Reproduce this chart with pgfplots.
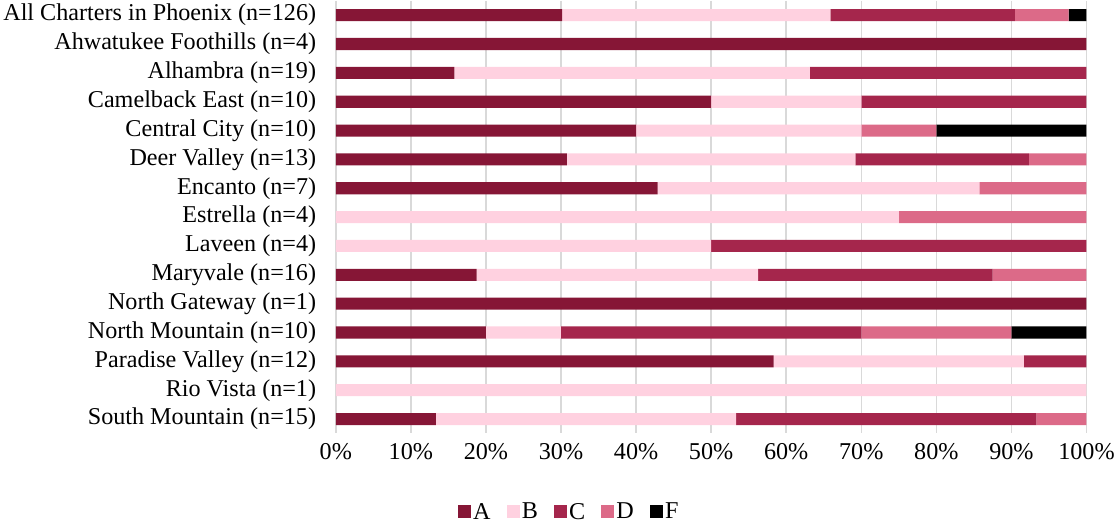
\documentclass[border=0pt]{standalone}
\usepackage{pgfplots}
\pgfplotsset{compat=1.18}
\usepackage{fontspec}
\setmainfont{Liberation Serif}
\definecolor{cA}{HTML}{861636}
\definecolor{cB}{HTML}{FFD1E0}
\definecolor{cC}{HTML}{A5264C}
\definecolor{cD}{HTML}{DC6A88}
\definecolor{cF}{HTML}{000000}
\begin{document}
\begin{tikzpicture}
\begin{axis}[
    xbar stacked, y dir=reverse,
    width=746pt, height=430pt, scale only axis,
    xmin=0, xmax=100, ymin=-0.5, ymax=14.5,
    ytick={0,...,14},
    yticklabels={All Charters in Phoenix (n=126), Ahwatukee Foothills (n=4),
        Alhambra (n=19), Camelback East (n=10), Central City (n=10),
        Deer Valley (n=13), Encanto (n=7), Estrella (n=4), Laveen (n=4),
        Maryvale (n=16), North Gateway (n=1), North Mountain (n=10),
        Paradise Valley (n=12), Rio Vista (n=1), South Mountain (n=15)},
    xtick={0,10,...,100},
    xticklabel={\pgfmathprintnumber{\tick}\%},
    /pgf/number format/assume math mode=true,
    xmajorgrids, grid style={draw=gray!30, line width=1.5pt},
    axis line style={draw=none}, major tick length=0pt,
    bar width=12pt,
    tick label style={font=\fontsize{24}{28}\selectfont},
    yticklabel style={xshift=-16pt},
    xticklabel style={yshift=-6pt},
    every axis plot/.append style={draw=none},
    legend style={at={(0.311,-0.181)}, anchor=center, legend columns=-1,
        draw=none, font=\fontsize{24}{28}\selectfont,
        /tikz/every even column/.append style={column sep=14pt}},
    legend image code/.code={\fill[#1] (0pt,-6.5pt) rectangle (13pt,6.5pt);},
]
\addplot[fill=cA] coordinates {(30.16,0) (100,1) (15.79,2) (50,3) (40,4) (30.77,5) (42.86,6) (0,7) (0,8) (18.75,9) (100,10) (20,11) (58.33,12) (0,13) (13.33,14)};
\addplot[fill=cB] coordinates {(35.71,0) (0,1) (47.37,2) (20,3) (30,4) (38.46,5) (42.86,6) (75,7) (50,8) (37.5,9) (0,10) (10,11) (33.33,12) (100,13) (40,14)};
\addplot[fill=cC] coordinates {(24.60,0) (0,1) (36.84,2) (30,3) (0,4) (23.08,5) (0,6) (0,7) (50,8) (31.25,9) (0,10) (40,11) (8.33,12) (0,13) (40,14)};
\addplot[fill=cD] coordinates {(7.14,0) (0,1) (0,2) (0,3) (10,4) (7.69,5) (14.29,6) (25,7) (0,8) (12.5,9) (0,10) (20,11) (0,12) (0,13) (6.67,14)};
\addplot[fill=cF] coordinates {(2.38,0) (0,1) (0,2) (0,3) (20,4) (0,5) (0,6) (0,7) (0,8) (0,9) (0,10) (10,11) (0,12) (0,13) (0,14)};
\legend{A,B,C,D,F}
\end{axis}
\end{tikzpicture}
\end{document}
